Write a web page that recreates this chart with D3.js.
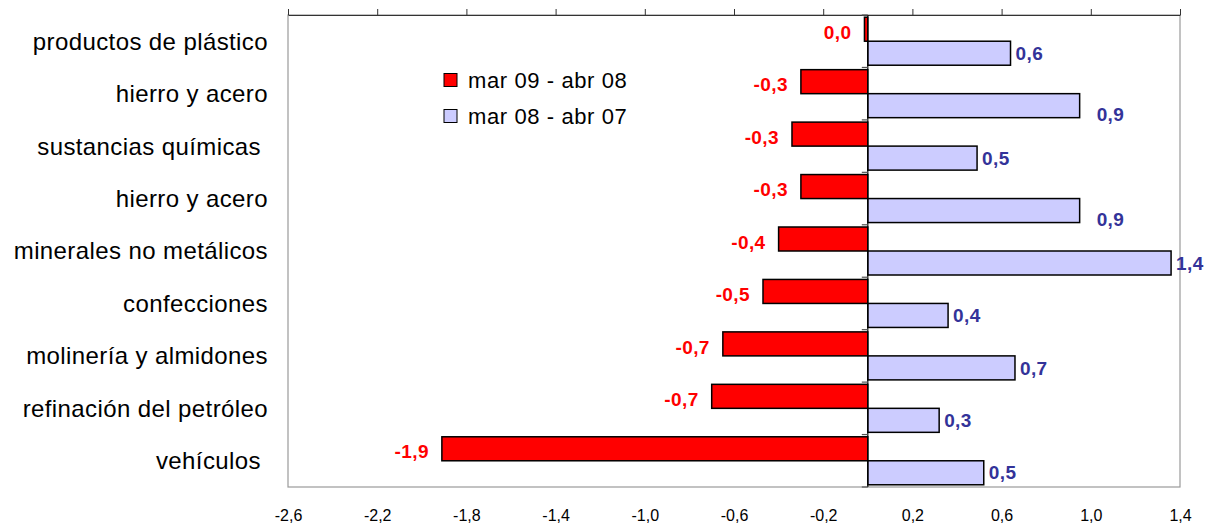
<!DOCTYPE html>
<html>
<head>
<meta charset="utf-8">
<script src="https://cdn.jsdelivr.net/npm/d3@7"></script>
<style>
body { margin: 0; background: #fff; }
text { font-family: Arial, "Liberation Sans", sans-serif; }
</style>
</head>
<body>
<div id="chart"></div>
<script>
var categories = ["productos de plástico", "hierro y acero", "sustancias químicas ", "hierro y acero",
  "minerales no metálicos", "confecciones", "molinería y almidones", "refinación del petróleo", "vehículos "];
var seriesNames = ["mar 09 - abr 08", "mar 08 - abr 07"];
var values0809 = [-0.015, -0.30, -0.34, -0.30, -0.40, -0.47, -0.65, -0.70, -1.91];
var values0807 = [0.64, 0.95, 0.49, 0.95, 1.36, 0.36, 0.66, 0.32, 0.52];
var labels0809 = ["0,0", "-0,3", "-0,3", "-0,3", "-0,4", "-0,5", "-0,7", "-0,7", "-1,9"];
var labels0807 = ["0,6", "0,9", "0,5", "0,9", "1,4", "0,4", "0,7", "0,3", "0,5"];
var tickValues = d3.range(-2.6, 1.41, 0.4);

var width = 1211, height = 525;
var pLeft = 288, pRight = 1180, pTop = 15, pBottom = 487;

var svg = d3.select("#chart").append("svg")
  .attr("width", width)
  .attr("height", height);

var x = d3.scaleLinear().domain([-2.6, 1.4]).range([pLeft, pRight]);
var y = d3.scaleBand().domain(d3.range(categories.length)).range([pTop, pBottom]);
var barH = 24;

// plot frame
svg.append("rect")
  .attr("x", pLeft).attr("y", pTop)
  .attr("width", pRight - pLeft).attr("height", pBottom - pTop)
  .attr("fill", "none").attr("stroke", "#9a9a9a").attr("stroke-width", 1.2);

// top axis (ticks only)
var topAxis = svg.append("g")
  .attr("transform", "translate(0," + pTop + ")")
  .call(d3.axisTop(x).tickValues(tickValues).tickFormat("").tickSize(6).tickSizeOuter(0));
topAxis.select(".domain").attr("stroke", "#333").attr("stroke-width", 1.2);
topAxis.selectAll(".tick line").attr("stroke", "#333");

// bottom tick labels
var botAxis = svg.append("g")
  .attr("transform", "translate(0,507)")
  .call(d3.axisBottom(x).tickValues(tickValues)
    .tickFormat(function(d) { return d3.format(".1f")(d).replace("−", "-").replace(".", ","); })
    .tickSize(0));
botAxis.select(".domain").remove();
botAxis.selectAll("text")
  .attr("font-family", "'Liberation Sans Narrow', 'Arial Narrow', Arial, sans-serif")
  .attr("font-size", 16).attr("fill", "#000");

// red bars
svg.selectAll(".bar0").data(values0809).enter().append("rect")
  .attr("class", "bar0")
  .attr("x", function(d) { return x(Math.min(0, d)); })
  .attr("y", function(d, i) { return y(i) + y.bandwidth() / 2 - barH; })
  .attr("width", function(d) { return Math.abs(x(d) - x(0)); })
  .attr("height", barH)
  .attr("fill", "#ff0000").attr("stroke", "#000").attr("stroke-width", 1.5);

// blue bars
svg.selectAll(".bar1").data(values0807).enter().append("rect")
  .attr("class", "bar1")
  .attr("x", function(d) { return x(Math.min(0, d)); })
  .attr("y", function(d, i) { return y(i) + y.bandwidth() / 2; })
  .attr("width", function(d) { return Math.abs(x(d) - x(0)); })
  .attr("height", barH)
  .attr("fill", "#ccccff").attr("stroke", "#000").attr("stroke-width", 1.5);

// zero line with small ticks between categories
svg.append("line")
  .attr("x1", x(0)).attr("x2", x(0)).attr("y1", pTop).attr("y2", pBottom)
  .attr("stroke", "#000").attr("stroke-width", 1.2);
svg.selectAll(".ztick").data(d3.range(categories.length + 1)).enter().append("line")
  .attr("x1", x(0) - 6).attr("x2", x(0))
  .attr("y1", function(i) { return pTop + i * y.bandwidth(); })
  .attr("y2", function(i) { return pTop + i * y.bandwidth(); })
  .attr("stroke", "#555").attr("stroke-width", 1.2);

// category labels
svg.selectAll(".cat").data(categories).enter().append("text")
  .attr("class", "cat")
  .attr("x", 268)
  .attr("y", function(d, i) { return y(i) + y.bandwidth() / 2; })
  .attr("dy", "0.35em")
  .attr("text-anchor", "end")
  .attr("font-size", 24)
  .attr("letter-spacing", 0.4)
  .style("white-space", "pre")
  .text(function(d) { return d; });

// value labels
svg.selectAll(".lab0").data(values0809).enter().append("text")
  .attr("class", "lab0")
  .attr("x", function(d) { return x(d) - 13; })
  .attr("y", function(d, i) { return y(i) + y.bandwidth() / 2 - barH / 2 + 3; })
  .attr("dy", "0.35em")
  .attr("text-anchor", "end")
  .attr("font-size", 19).attr("letter-spacing", 0.4)
  .attr("font-weight", "bold").attr("fill", "#ff0000")
  .text(function(d, i) { return labels0809[i]; });

var blueNudge = [0, 1, 0, 1, 0, 0, 0, 0, 0];
svg.selectAll(".lab1").data(values0807).enter().append("text")
  .attr("class", "lab1")
  .attr("x", function(d, i) { return x(d) + 5 + blueNudge[i] * 12; })
  .attr("y", function(d, i) { return y(i) + y.bandwidth() / 2 + barH / 2 + blueNudge[i] * 9; })
  .attr("dy", "0.35em")
  .attr("font-size", 19).attr("letter-spacing", 0.4)
  .attr("font-weight", "bold").attr("fill", "#333399")
  .text(function(d, i) { return labels0807[i]; });

// legend
var legColors = ["#ff0000", "#ccccff"];
var leg = svg.selectAll(".leg").data(seriesNames).enter().append("g")
  .attr("class", "leg")
  .attr("transform", function(d, i) { return "translate(444," + (80 + i * 36) + ")"; });
leg.append("rect")
  .attr("x", 0).attr("y", -6.5).attr("width", 13).attr("height", 13)
  .attr("fill", function(d, i) { return legColors[i]; })
  .attr("stroke", "#000").attr("stroke-width", 1);
leg.append("text")
  .attr("x", 24).attr("dy", "0.35em")
  .attr("font-size", 22).attr("letter-spacing", 0.6)
  .text(function(d) { return d; });
</script>
</body>
</html>
